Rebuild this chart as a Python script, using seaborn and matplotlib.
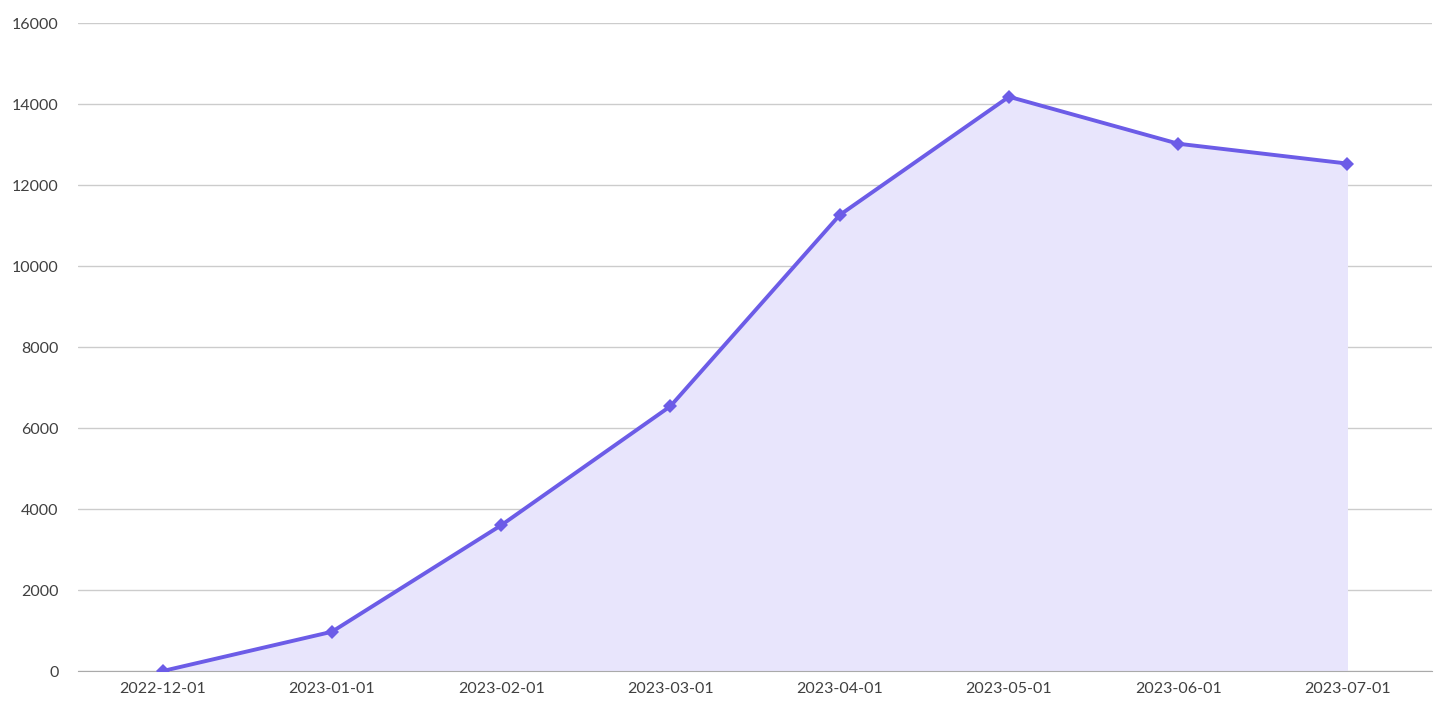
import matplotlib
matplotlib.use("Agg")
import matplotlib.pyplot as plt
import seaborn as sns
import pandas as pd

dates = ["2022-12-01","2023-01-01","2023-02-01","2023-03-01","2023-04-01","2023-05-01","2023-06-01","2023-07-01"]
values = [0, 970, 3600, 6540, 11260, 14180, 13020, 12530]
yticks = [0, 2000, 4000, 6000, 8000, 10000, 12000, 14000, 16000]

sns.set_style("white")
plt.rcParams['font.family'] = ['Lato', 'DejaVu Sans']

df = pd.DataFrame({"date": dates, "value": values})
fig = plt.figure(figsize=(14.56, 7.2), dpi=100)
ax = fig.add_axes([0.0536, 0.068, 0.93, 0.9])
x = list(range(len(dates)))
ax.fill_between(x, values, 0, color="#e8e5fc", zorder=1, linewidth=0)
sns.lineplot(data=df, x="date", y="value", ax=ax, color="#6c5ce7", linewidth=2.8,
             marker="D", markersize=7, markeredgewidth=0, zorder=3, sort=False)
ax.set_xlim(-0.5, len(dates) - 0.5)
ax.set_ylim(0, 16000)
ax.set_yticks(yticks)
ax.yaxis.grid(True, color="#cccccc", linewidth=1)
ax.set_axisbelow(True)
for s in ["top", "right", "left"]:
    ax.spines[s].set_visible(False)
ax.spines["bottom"].set_color("#aaaaaa")
ax.set_xlabel("")
ax.set_ylabel("")
ax.tick_params(axis="both", length=0, labelsize=11.5, labelcolor="#404040", pad=8)
ax.tick_params(axis="y", pad=14)
fig.savefig("out.png", dpi=100)
